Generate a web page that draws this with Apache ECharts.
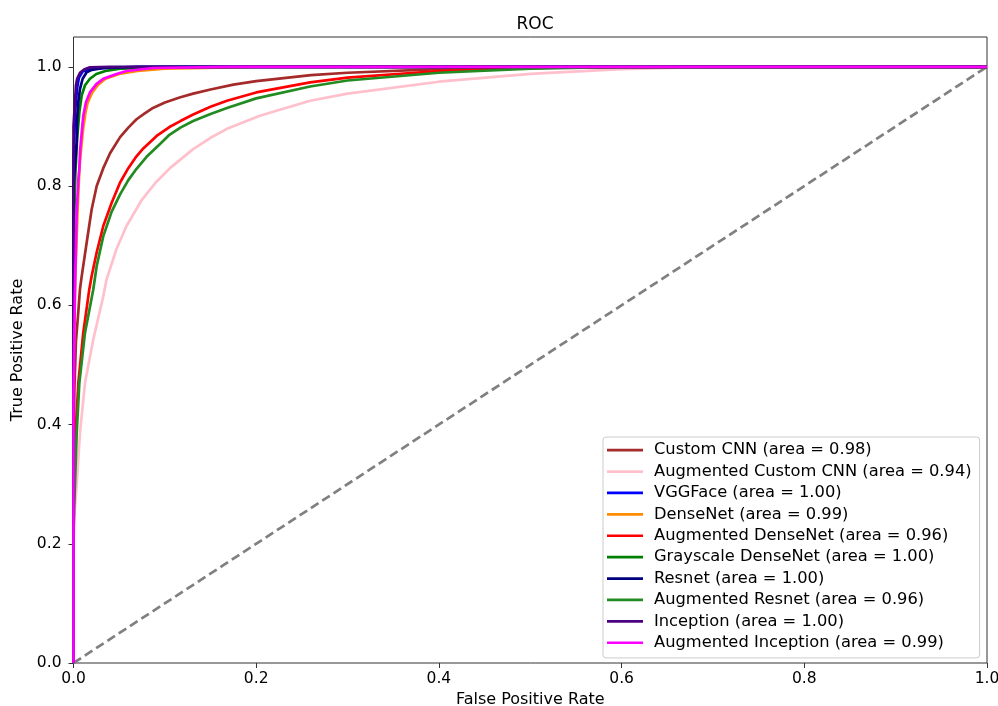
<!DOCTYPE html>
<html>
<head>
<meta charset="utf-8">
<script src="https://cdn.jsdelivr.net/npm/echarts@6/dist/echarts.min.js"></script>
<style>
html,body{margin:0;padding:0;background:#fff;}
#chart{width:998px;height:706px;}
</style>
</head>
<body>
<div id="chart"></div>
<script>
// ---- Data (FPR, TPR) ----
const seriesNames = [
  'Custom CNN (area = 0.98)',
  'Augmented Custom CNN (area = 0.94)',
  'VGGFace (area = 1.00)',
  'DenseNet (area = 0.99)',
  'Augmented DenseNet (area = 0.96)',
  'Grayscale DenseNet (area = 1.00)',
  'Resnet (area = 1.00)',
  'Augmented Resnet (area = 0.96)',
  'Inception (area = 1.00)',
  'Augmented Inception (area = 0.99)'
];
const seriesColors = ['#a52a2a','#ffc0cb','#0000ff','#ff8c00','#ff0000','#008000','#000080','#228b22','#4b0082','#ff00ff'];

const customCnn = [[0,0],[0,0.35],[0.001,0.46],[0.0027,0.54],[0.0053,0.59],[0.0071,0.627],[0.009,0.649],[0.0144,0.705],[0.0199,0.761],[0.0254,0.80],[0.0326,0.83],[0.040,0.855],[0.051,0.882],[0.06,0.898],[0.069,0.912],[0.078,0.922],[0.087,0.931],[0.1,0.94],[0.117,0.949],[0.131,0.955],[0.15,0.962],[0.175,0.97],[0.2,0.976],[0.26,0.986],[0.3,0.99],[0.4,0.996],[0.5,0.998],[0.6,1.0],[1,1]];
const augCustomCnn = [[0,0],[0,0.2],[0.0015,0.26],[0.0035,0.30],[0.0071,0.386],[0.0126,0.47],[0.0217,0.543],[0.0326,0.615],[0.0363,0.644],[0.047,0.694],[0.058,0.733],[0.074,0.775],[0.09,0.806],[0.1056,0.83],[0.131,0.862],[0.15,0.881],[0.168,0.896],[0.204,0.918],[0.259,0.943],[0.3,0.955],[0.4,0.975],[0.5,0.988],[0.6,0.996],[0.7,1.0],[1,1]];
const vggFace = [[0,0],[0,0.85],[0.002,0.93],[0.004,0.965],[0.006,0.982],[0.01,0.992],[0.02,0.997],[0.05,0.999],[0.1,1],[1,1]];
const denseNet = [[0,0],[0,0.5],[0.002,0.65],[0.0045,0.76],[0.0065,0.83],[0.0085,0.865],[0.0105,0.895],[0.013,0.922],[0.0155,0.94],[0.0205,0.957],[0.027,0.97],[0.035,0.98],[0.05,0.988],[0.07,0.993],[0.1,0.997],[0.2,1],[1,1]];
const augDenseNet = [[0,0],[0,0.25],[0.001,0.33],[0.0027,0.397],[0.0053,0.47],[0.0107,0.554],[0.0173,0.627],[0.0199,0.649],[0.0254,0.689],[0.0326,0.733],[0.0418,0.772],[0.051,0.806],[0.06,0.83],[0.068,0.848],[0.0764,0.863],[0.091,0.884],[0.105,0.899],[0.117,0.909],[0.131,0.92],[0.15,0.933],[0.168,0.943],[0.2,0.957],[0.259,0.974],[0.3,0.982],[0.4,0.993],[0.5,0.998],[0.6,1.0],[1,1]];
const grayDenseNet = [[0,0],[0,0.7],[0.002,0.82],[0.004,0.88],[0.0064,0.924],[0.009,0.952],[0.0126,0.969],[0.018,0.98],[0.025,0.988],[0.035,0.993],[0.051,0.997],[0.1,0.999],[0.2,1],[1,1]];
const resnet = [[0,0],[0,0.8],[0.0035,0.874],[0.004,0.913],[0.0053,0.941],[0.0071,0.963],[0.01,0.98],[0.0144,0.991],[0.02,0.995],[0.033,0.998],[0.07,1],[1,1]];
const augResnet = [[0,0],[0,0.22],[0.0016,0.30],[0.0035,0.386],[0.0064,0.47],[0.0126,0.554],[0.0217,0.627],[0.0254,0.666],[0.0326,0.716],[0.0418,0.757],[0.051,0.786],[0.06,0.81],[0.069,0.829],[0.080,0.849],[0.095,0.871],[0.105,0.886],[0.117,0.898],[0.131,0.909],[0.15,0.921],[0.168,0.931],[0.2,0.947],[0.259,0.967],[0.3,0.977],[0.4,0.99],[0.5,0.997],[0.6,1],[1,1]];
const inception = [[0,0],[0,0.9],[0.0027,0.969],[0.004,0.98],[0.0071,0.99],[0.012,0.996],[0.018,0.999],[0.04,1],[1,1]];
const augInception = [[0,0],[0,0.45],[0.0015,0.62],[0.0035,0.756],[0.0053,0.81],[0.0064,0.829],[0.0071,0.857],[0.009,0.89],[0.0107,0.918],[0.0137,0.941],[0.018,0.957],[0.025,0.971],[0.0326,0.98],[0.047,0.988],[0.058,0.993],[0.087,0.998],[0.17,1],[1,1]];
const chanceLine = [[0,0],[1,1]];

const seriesData = [customCnn, augCustomCnn, vggFace, denseNet, augDenseNet, grayDenseNet, resnet, augResnet, inception, augInception];
const tickValues = [0, 0.2, 0.4, 0.6, 0.8, 1.0];

const FONT = 'DejaVu Sans';
const chart = echarts.init(document.getElementById('chart'), null, {renderer: 'canvas'});

const series = seriesData.map((d, i) => ({
  name: seriesNames[i],
  type: 'line',
  data: d,
  showSymbol: false,
  symbol: 'none',
  color: seriesColors[i],
  lineStyle: {width: 2.7, color: seriesColors[i]},
  animation: false
}));
series.unshift({
  name: 'chance',
  type: 'line',
  data: chanceLine,
  showSymbol: false,
  symbol: 'none',
  lineStyle: {width: 2.7, color: '#808080', type: [9, 4.5]},
  animation: false
});

chart.setOption({
  animation: false,
  backgroundColor: '#ffffff',
  title: {
    text: 'ROC',
    left: 530, top: 11, textAlign: 'center',
    textStyle: {fontFamily: FONT, fontSize: 17, fontWeight: 'normal', color: '#000'}
  },
  grid: {
    left: 73.5, right: 11, top: 37, bottom: 43,
    outerBoundsMode: 'none',
    containLabel: false,
    show: true, borderColor: '#333', borderWidth: 1, backgroundColor: '#fff'
  },
  legend: {
    data: seriesNames,
    orient: 'vertical',
    left: 603, top: 437,
    icon: 'rect',
    itemWidth: 36, itemHeight: 2.7,
    itemGap: 5.1,
    padding: [5, 8, 7, 4],
    backgroundColor: 'rgba(255,255,255,0.85)',
    borderColor: '#cccccc', borderWidth: 1, borderRadius: 3,
    textStyle: {fontFamily: FONT, fontSize: 16.3, lineHeight: 16.3, color: '#000', padding: [0, 0, 0, 6]},
    selectedMode: false
  },
  xAxis: {
    type: 'value', min: 0, max: 1, interval: 0.2,
    name: 'False Positive Rate', nameLocation: 'middle', nameGap: 27,
    nameTextStyle: {fontFamily: FONT, fontSize: 16, color: '#000'},
    axisLine: {show: false},
    axisTick: {show: true, inside: false, length: 5, lineStyle: {color: '#333', width: 1}},
    axisLabel: {fontFamily: FONT, fontSize: 15.5, color: '#000', margin: 8,
      formatter: v => v.toFixed(1)},
    splitLine: {show: false}
  },
  yAxis: {
    type: 'value', min: 0, max: 1.05, interval: 0.2,
    name: 'True Positive Rate', nameLocation: 'middle', nameGap: 48,
    nameTextStyle: {fontFamily: FONT, fontSize: 16, color: '#000'},
    axisLine: {show: false},
    axisTick: {show: true, inside: false, length: 5, customValues: tickValues, lineStyle: {color: '#333', width: 1}},
    axisLabel: {fontFamily: FONT, fontSize: 15.5, color: '#000', margin: 12, customValues: tickValues,
      formatter: v => v.toFixed(1)},
    splitLine: {show: false}
  },
  series: series
});
</script>
</body>
</html>
